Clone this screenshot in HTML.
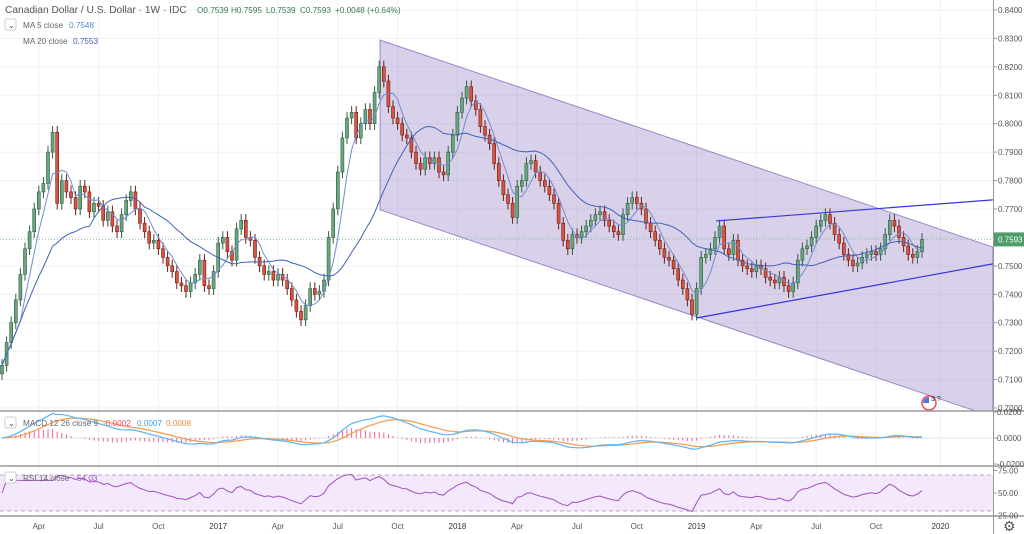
<!DOCTYPE html>
<html><head><meta charset="utf-8">
<style>
body{margin:0;background:#fff;font-family:"Liberation Sans",sans-serif}
#wrap{position:relative;width:1024px;height:534px;overflow:hidden}
svg{position:absolute;left:0;top:0}
.t{font-family:"Liberation Sans",sans-serif}
</style></head><body>
<div id="wrap">
<svg id="c" width="1024" height="534"></svg>
</div>
<script>
const closes=[0.7150,0.7230,0.7300,0.7380,0.7470,0.7560,0.7620,0.7700,0.7760,0.7790,
0.7900,0.7970,0.7720,0.7800,0.7760,0.7740,0.7700,0.7780,0.7760,0.7690,
0.7720,0.7710,0.7660,0.7690,0.7640,0.7620,0.7680,0.7730,0.7760,0.7700,
0.7650,0.7620,0.7580,0.7590,0.7560,0.7530,0.7500,0.7480,0.7440,0.7430,
0.7410,0.7440,0.7470,0.7520,0.7430,0.7420,0.7480,0.7580,0.7600,0.7550,
0.7520,0.7630,0.7660,0.7600,0.7590,0.7530,0.7500,0.7470,0.7480,0.7450,
0.7470,0.7450,0.7420,0.7380,0.7340,0.7310,0.7360,0.7420,0.7400,0.7410,
0.7450,0.7600,0.7700,0.7830,0.7950,0.8020,0.8040,0.7950,0.8000,0.8050,
0.8000,0.8110,0.8200,0.8150,0.8060,0.8020,0.8000,0.7960,0.7950,0.7900,
0.7860,0.7840,0.7880,0.7860,0.7880,0.7830,0.7820,0.7900,0.7960,0.8040,
0.8090,0.8130,0.8080,0.8050,0.7990,0.7960,0.7930,0.7860,0.7800,0.7750,
0.7720,0.7670,0.7780,0.7800,0.7860,0.7870,0.7830,0.7800,0.7780,0.7750,
0.7720,0.7650,0.7590,0.7560,0.7610,0.7600,0.7620,0.7640,0.7660,0.7680,
0.7690,0.7660,0.7640,0.7620,0.7610,0.7680,0.7720,0.7740,0.7720,0.7700,
0.7650,0.7620,0.7590,0.7560,0.7530,0.7520,0.7490,0.7450,0.7420,0.7380,
0.7330,0.7420,0.7530,0.7540,0.7560,0.7600,0.7640,0.7560,0.7540,0.7590,
0.7520,0.7500,0.7490,0.7480,0.7500,0.7490,0.7460,0.7450,0.7440,0.7460,
0.7430,0.7410,0.7440,0.7520,0.7560,0.7570,0.7600,0.7640,0.7660,0.7680,
0.7650,0.7610,0.7580,0.7540,0.7520,0.7500,0.7510,0.7530,0.7540,0.7550,
0.7540,0.7560,0.7610,0.7660,0.7640,0.7600,0.7570,0.7540,0.7530,0.7550,0.7593];
const firstOpen=0.7120;
const priceTicks=[0.70,0.71,0.72,0.73,0.74,0.75,0.76,0.77,0.78,0.79,0.80,0.81,0.82,0.83,0.84];
const timeLabels=["Apr","Jul","Oct","2017","Apr","Jul","Oct","2018","Apr","Jul","Oct","2019","Apr","Jul","Oct","2020"];
const timeIdx=[8,21,34,47,60,73,86,99,112,125,138,151,164,177,190,204];
const channelTop=[[82.2,0.8294],[215.4,0.7566]];
const channelHeight=0.0597;
const triTop=[[155.2,0.7658],[215.4,0.7732]];
const triBottom=[[151.1,0.7317],[215.4,0.7507]];
const macdTicks=[0.02,0,-0.02];
const rsiTicks=[75,50,25];

const svg=document.getElementById('c');
const NS='http://www.w3.org/2000/svg';
const PW=993;
const X=i=>2+i*4.6;
const Y=p=>408-(p-0.70)*2843;
const MY=v=>438-v*1300;
const RY=v=>493-(v-50)*0.9;
function el(tag,attrs,parent){const e=document.createElementNS(NS,tag);for(const k in attrs)e.setAttribute(k,attrs[k]);(parent||svg).appendChild(e);return e;}
function txt(x,y,s,attrs,parent){const e=el('text',Object.assign({x:x,y:y,'font-size':10,fill:'#555',class:'t'},attrs||{}),parent);e.textContent=s;return e;}

const grid=el('g',{});


timeIdx.forEach(i=>{el('line',{x1:X(i),x2:X(i),y1:0,y2:516,stroke:'#eef0f4'},grid);});
priceTicks.forEach(p=>{el('line',{x1:0,x2:PW,y1:Y(p),y2:Y(p),stroke:'#eef0f4'},grid);});

const defs=el('defs',{});
const cp=el('clipPath',{id:'mainclip'},defs);el('rect',{x:0,y:0,width:PW,height:411},cp);
const main=el('g',{'clip-path':'url(#mainclip)'});

const cx0=channelTop[0][0],cx1=channelTop[1][0];
const ct0=channelTop[0][1],ct1=channelTop[1][1];
const ch=el('polygon',{points:`${X(cx0)},${Y(ct0)} ${X(cx1)},${Y(ct1)} ${X(cx1)},${Y(ct1-channelHeight)} ${X(cx0)},${Y(ct0-channelHeight)}`,fill:'rgba(155,135,200,0.38)',stroke:'#9a86c8','stroke-width':1},main);



el('line',{x1:0,x2:PW,y1:Y(closes[closes.length-1]),y2:Y(closes[closes.length-1]),stroke:'#8fbf9f','stroke-dasharray':'1,2'},main);

const cg=el('g',{},main);


closes.forEach((c,i)=>{
  const o=i===0?firstOpen:closes[i-1];
  const up=c>=o;
  const hi=Math.max(o,c)+0.0022,lo=Math.min(o,c)-0.0022;
  const x=X(i);
  const col=up?'#2b5e3c':'#6b1d14';
  el('line',{x1:x,x2:x,y1:Y(hi),y2:Y(lo),stroke:col,'stroke-width':1},cg);
  const r=el('rect',{x:x-1.5,y:Math.min(Y(o),Y(c)),width:3,height:Math.max(1,Math.abs(Y(o)-Y(c))),fill:up?'#6ba583':'#d75442',stroke:col,'stroke-width':0.6},cg);
  
  
});
function sma(n){return closes.map((_,i)=>{const s=closes.slice(Math.max(0,i-n+1),i+1);return s.reduce((a,b)=>a+b,0)/s.length;});}
[[5,'#6f8fd0','ma5-line'],[20,'#3f62b6','ma20-line']].forEach(([n,col,name])=>{
  const v=sma(n);
  const p=el('polyline',{points:v.map((y,i)=>X(i)+','+Y(y)).join(' '),fill:'none',stroke:col,'stroke-width':1},main);
  
  
});
[[triTop,'triangle-upper-line'],[triBottom,'triangle-lower-line']].forEach(([l,name])=>{
  const e=el('line',{x1:X(l[0][0]),y1:Y(l[0][1]),x2:X(l[1][0]),y2:Y(l[1][1]),stroke:'#3535e0','stroke-width':1.2},main);
  
  
});
const ev=el('g',{},main);


el('circle',{cx:929,cy:403,r:7,fill:'#fff',stroke:'#f24a5a','stroke-width':1.5},ev);
el('path',{d:'M923,403 A6,6 0 0 1 929,397 L929,403 Z',fill:'#4a7ad8'},ev);
txt(931,401,'3 ?',{'font-size':7,fill:'#333'},ev);

// header
txt(5,13,'Canadian Dollar / U.S. Dollar · 1W · IDC',{'font-size':10.2,fill:'#555'});
txt(197,13,'O0.7539',{'font-size':8.2,fill:'#3a7a50'});
txt(231,13,'H0.7595',{'font-size':8.2,fill:'#3a7a50'});
txt(266,13,'L0.7539',{'font-size':8.2,fill:'#3a7a50'});
txt(300,13,'C0.7593',{'font-size':8.2,fill:'#3a7a50'});
txt(335,13,'+0.0048 (+0.64%)',{'font-size':8.2,fill:'#3a7a50'});
const tb=el('rect',{x:5,y:19,width:11,height:11,fill:'#fff',stroke:'#ccc',rx:2});


txt(8,28,'⌄',{'font-size':8,fill:'#444'});
txt(23,28,'MA 5 close',{'font-size':8.2,fill:'#666'});
txt(69,28,'0.7548',{'font-size':8.2,fill:'#4a8fd0'});
txt(23,44,'MA 20 close',{'font-size':8.2,fill:'#666'});
txt(73,44,'0.7553',{'font-size':8.2,fill:'#3f62b6'});

// MACD
function ema(arr,n){const k=2/(n+1);const o=[];arr.forEach((v,i)=>o.push(i?v*k+o[i-1]*(1-k):v));return o;}
const e12=ema(closes,12),e26=ema(closes,26);
const macd=e12.map((v,i)=>v-e26[i]);const sig=ema(macd,9);
const mg=el('g',{});


el('line',{x1:0,x2:PW,y1:MY(0),y2:MY(0),stroke:'#e6e6e6'},mg);
macd.forEach((v,i)=>{const h=v-sig[i];el('line',{x1:X(i),x2:X(i),y1:MY(0),y2:MY(h),stroke:'#f06292','stroke-width':1},mg);});
el('polyline',{points:sig.map((v,i)=>X(i)+','+MY(v)).join(' '),fill:'none',stroke:'#f59a4a','stroke-width':1.2},mg);
el('polyline',{points:macd.map((v,i)=>X(i)+','+MY(v)).join(' '),fill:'none',stroke:'#5ab4f5','stroke-width':1.2},mg);
el('rect',{x:5,y:417,width:11,height:11,fill:'#fff',stroke:'#ccc',rx:2},mg);
txt(8,426,'⌄',{'font-size':8,fill:'#444'},mg);
txt(23,426,'MACD 12 26 close 9',{'font-size':8.2,fill:'#666'},mg);
txt(103,426,'-0.0002',{'font-size':8.2,fill:'#f04a7a'},mg);
txt(137,426,'0.0007',{'font-size':8.2,fill:'#3aa0f0'},mg);
txt(166,426,'0.0008',{'font-size':8.2,fill:'#f58a3a'},mg);

// RSI
let ag=0,al=0;const rsi=[50];
for(let i=1;i<closes.length;i++){const d=closes[i]-closes[i-1];const g=Math.max(d,0),l=Math.max(-d,0);
 if(i<=14){ag+=g/14;al+=l/14;}else{ag=(ag*13+g)/14;al=(al*13+l)/14;}
 rsi.push(al===0?70:100-100/(1+ag/al));}
const rg=el('g',{});


el('rect',{x:0,y:RY(70),width:PW,height:RY(30)-RY(70),fill:'#f3e8fc'},rg);
[70,30].forEach(v=>el('line',{x1:0,x2:PW,y1:RY(v),y2:RY(v),stroke:'#b8a8c8','stroke-dasharray':'4,3'},rg));
el('polyline',{points:rsi.map((v,i)=>X(i)+','+RY(50+(v-50)*0.7)).join(' '),fill:'none',stroke:'#a050c0','stroke-width':1},rg);
el('rect',{x:5,y:472,width:11,height:11,fill:'#fff',stroke:'#ccc',rx:2},rg);
txt(8,481,'⌄',{'font-size':8,fill:'#444'},rg);
txt(23,481,'RSI 14 close',{'font-size':8.2,fill:'#666'},rg);
txt(77,481,'54.03',{'font-size':8.2,fill:'#a050c0'},rg);

[411,466,516].forEach(y=>el('line',{x1:0,x2:1024,y1:y,y2:y,stroke:'#999','stroke-width':1.5}));
el('line',{x1:PW+0.5,x2:PW+0.5,y1:0,y2:534,stroke:'#999'});
const ax=el('g',{});


priceTicks.forEach(p=>{el('line',{x1:PW,x2:PW+4,y1:Y(p),y2:Y(p),stroke:'#999'},ax);txt(998,Y(p)+3,p.toFixed(4),{'font-size':8},ax);});
const pl=el('rect',{x:PW+1,y:Y(closes[closes.length-1])-7,width:31,height:14,fill:'#4f9c6a'});


txt(998,Y(closes[closes.length-1])+3,closes[closes.length-1].toFixed(4),{'font-size':8,fill:'#fff'});
macdTicks.forEach(v=>{el('line',{x1:PW,x2:PW+4,y1:MY(v),y2:MY(v),stroke:'#999'});txt(997,MY(v)+3,v.toFixed(4),{'font-size':8});});
rsiTicks.forEach(v=>{el('line',{x1:PW,x2:PW+4,y1:RY(v),y2:RY(v),stroke:'#999'});txt(998,RY(v)+3,v.toFixed(2),{'font-size':8});});
const tg=el('g',{});


timeLabels.forEach((s,k)=>{txt(X(timeIdx[k]),529,s,{'font-size':8,'text-anchor':'middle',fill:s.length===4?'#333':'#555'},tg);});
const gear=txt(1003,531,'⚙',{'font-size':14,fill:'#555'});


</script>
</body></html>
